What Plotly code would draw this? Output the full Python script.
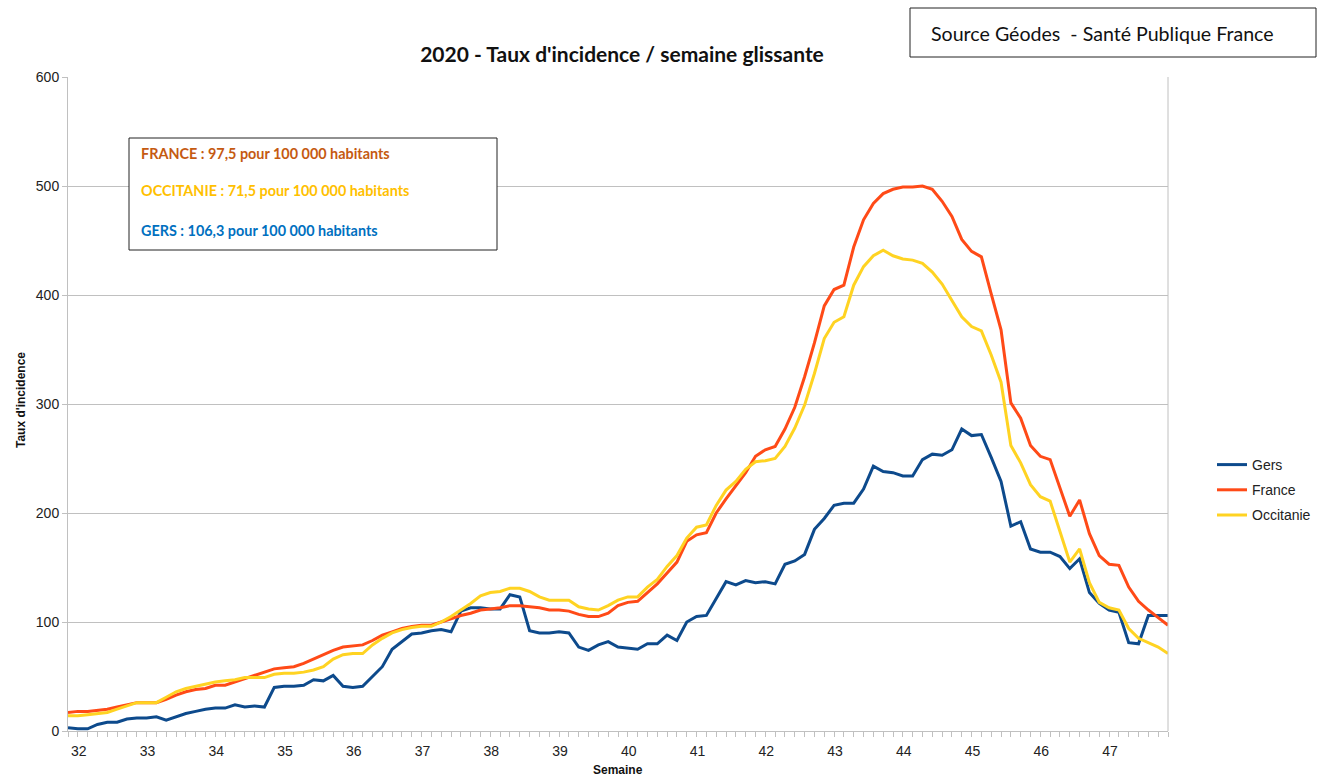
import plotly.graph_objects as go

# ---------------- data (daily values, rolling 7-day incidence) ----------------
weeks = list(range(32, 48))          # week labels shown on the x axis
first_label_day = 1.1                # day position of the first week label
days_per_week = 7

gers = [3, 2, 2, 6, 8, 8, 11, 12, 12, 13, 10, 13, 16, 18, 20, 21, 21, 24, 22, 23,
        22, 40, 41, 41, 42, 47, 46, 51, 41, 40, 41, 50, 59, 75, 82, 89, 90, 92, 93, 91,
        110, 113, 113, 112, 112, 125, 123, 92, 90, 90, 91, 90, 77, 74, 79, 82, 77, 76, 75, 80,
        80, 88, 83, 100, 105, 106, 121, 137, 134, 138, 136, 137, 135, 153, 156, 162, 185, 195, 207, 209,
        209, 222, 243, 238, 237, 234, 234, 249, 254, 253, 258, 277, 271, 272, 251, 229, 188, 192, 167, 164,
        164, 160, 149, 158, 127, 117, 111, 109, 81, 80, 106, 106, 106]

france = [17, 18, 18, 19, 20, 22, 24, 26, 26, 26, 29, 33, 36, 38, 39, 42, 42, 45, 48, 51,
          54, 57, 58, 59, 62, 66, 70, 74, 77, 78, 79, 83, 88, 91, 94, 96, 97, 97, 100, 103,
          106, 108, 111, 112, 113, 115, 115, 114, 113, 111, 111, 110, 107, 105, 105, 108, 115, 118, 119, 127,
          135, 145, 155, 174, 180, 182, 200, 213, 225, 237, 252, 258, 261, 277, 297, 325, 356, 390, 405, 409,
          444, 469, 484, 493, 497, 499, 499, 500, 497, 486, 472, 451, 440, 435, 401, 368, 301, 287, 262, 252,
          249, 224, 197, 212, 181, 161, 153, 152, 132, 119, 111, 104, 97]

occitanie = [14, 14, 15, 16, 17, 20, 23, 26, 26, 26, 31, 36, 39, 41, 43, 45, 46, 47, 49, 49,
             49, 52, 53, 53, 54, 56, 59, 66, 70, 71, 71, 79, 85, 90, 93, 95, 96, 96, 100, 105,
             111, 117, 124, 127, 128, 131, 131, 128, 123, 120, 120, 120, 114, 112, 111, 115, 120, 123, 123, 132,
             139, 151, 161, 177, 187, 189, 207, 221, 229, 240, 247, 248, 250, 261, 278, 299, 328, 360, 375, 380,
             409, 426, 436, 441, 436, 433, 432, 429, 421, 410, 395, 380, 371, 367, 345, 320, 262, 246, 226, 215,
             211, 183, 155, 167, 136, 118, 113, 111, 94, 85, 81, 77, 71]

series_names = ["Gers", "France", "Occitanie"]
series_colors = ["#0d4a8c", "#ff4a17", "#ffd322"]

days = list(range(len(gers)))
tick_positions = [first_label_day + days_per_week * k for k in range(len(weeks))]
tick_labels = [str(w) for w in weeks]

# ---------------- layout geometry ----------------
W, H = 1319, 776
L, R, T, B = 68, 1168, 77, 731


def px(x):
    return (x - L) / (R - L)


def py(y):
    return (B - y) / (B - T)


fig = go.Figure()
for name, vals, col in zip(series_names, [gers, france, occitanie], series_colors):
    fig.add_trace(go.Scatter(x=days, y=vals, mode="lines", name=name,
                             legendgroup=name,
                             line=dict(color=col, width=3)))

grid = "#c0c0c0"
fig.update_layout(
    width=W, height=H, autosize=False,
    margin=dict(l=L, r=W - R, t=T, b=H - B, autoexpand=False),
    paper_bgcolor="white", plot_bgcolor="white",
    font=dict(family="Liberation Sans, Arial, sans-serif", color="#222222", size=14),
    title=dict(text="<b>2020 - Taux d'incidence / semaine glissante</b>",
               x=622 / W, xref="container", xanchor="center",
               y=1 - 55 / H, yref="container", yanchor="middle",
               font=dict(family="Lato, Carlito, sans-serif", size=21, color="#111111")),
    xaxis=dict(range=[0, len(gers) - 1], tickmode="array", tickvals=tick_positions,
               ticktext=tick_labels, ticks="", showgrid=False, zeroline=False,
               showline=True, linecolor=grid, linewidth=1, mirror=False,
               tickfont=dict(size=14, color="#222222"), ticklabelstandoff=7,
               minor=dict(tickmode="linear", tick0=0, dtick=1, ticks="outside",
                          ticklen=5, tickcolor=grid, showgrid=False),
               fixedrange=True),
    yaxis=dict(range=[0, 600], dtick=100, showgrid=True, gridcolor=grid, gridwidth=1,
               zeroline=False, showline=True, linecolor=grid, linewidth=1,
               ticks="outside", ticklen=5, tickcolor=grid,
               tickfont=dict(size=14, color="#222222")),
    legend=dict(x=px(1212), y=py(449), xanchor="left", yanchor="top",
                traceorder="grouped", tracegroupgap=4,
                font=dict(size=14, color="#222222"), bgcolor="rgba(0,0,0,0)",
                itemwidth=30),
    showlegend=True,
)

shapes = [
    # right border of plot area
    dict(type="line", xref="paper", yref="paper", x0=1, x1=1, y0=0, y1=1,
         line=dict(color=grid, width=1)),
    # info box
    dict(type="rect", xref="paper", yref="paper", x0=px(129), x1=px(497), y0=py(250), y1=py(138),
         line=dict(color="#222222", width=1), fillcolor="white"),
    # source box
    dict(type="rect", xref="paper", yref="paper", x0=px(910), x1=px(1316), y0=py(57), y1=py(8),
         line=dict(color="#222222", width=1), fillcolor="white"),
]
fig.update_layout(shapes=shapes)

box_font = "Lato, Carlito, sans-serif"
annotations = [
    dict(text="<b>FRANCE : 97,5 pour 100 000 habitants</b>", x=px(139), y=py(153),
         font=dict(family=box_font, size=14.4, color="#c55a11")),
    dict(text="<b>OCCITANIE : 71,5 pour 100 000 habitants</b>", x=px(139), y=py(191),
         font=dict(family=box_font, size=14.4, color="#ffc000")),
    dict(text="<b>GERS : 106,3 pour 100 000 habitants</b>", x=px(139), y=py(230),
         font=dict(family=box_font, size=14.4, color="#0070c0")),
    dict(text="Source Géodes  - Santé Publique France", x=px(929), y=py(33),
         font=dict(family=box_font, size=19.6, color="#111111")),
]
for a in annotations:
    a.update(xref="paper", yref="paper", xanchor="left", yanchor="middle", showarrow=False)
annotations += [
    dict(text="<b>Taux d'incidence</b>", x=px(21), y=py(400), xref="paper", yref="paper",
         textangle=-90, showarrow=False, xanchor="center", yanchor="middle",
         font=dict(size=12, color="#111111")),
    dict(text="<b>Semaine</b>", x=px(618), y=py(770), xref="paper", yref="paper",
         showarrow=False, xanchor="center", yanchor="middle",
         font=dict(size=12, color="#111111")),
]
fig.update_layout(annotations=annotations)

fig.write_html("out.html", config={"displayModeBar": False},
               post_script="document.body.style.margin='0';")
